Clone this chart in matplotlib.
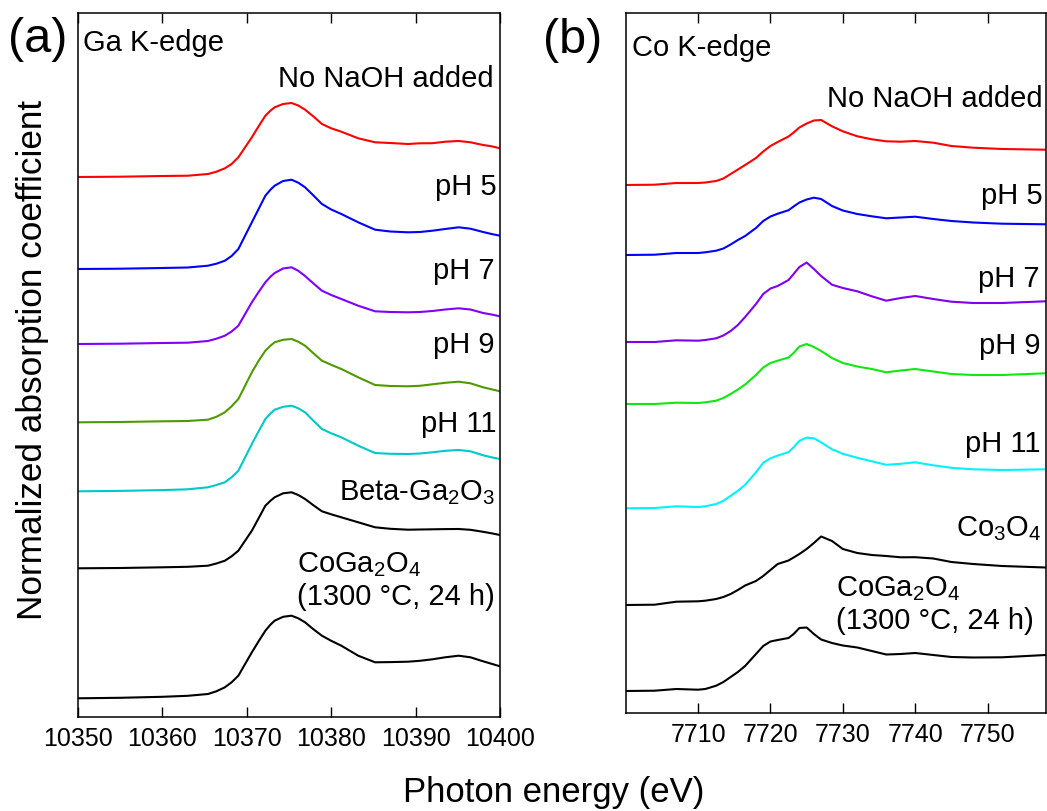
import matplotlib
matplotlib.use("Agg")
import matplotlib.pyplot as plt
import numpy as np

plt.rcParams['font.family'] = ['Liberation Sans', 'DejaVu Sans']
plt.rcParams['mathtext.fontset'] = 'custom'
plt.rcParams['mathtext.rm'] = 'Liberation Sans'
plt.rcParams['mathtext.it'] = 'Liberation Sans:italic'
plt.rcParams['mathtext.bf'] = 'Liberation Sans:bold'

# ---------------- Ga K-edge data (a.u., heights above pre-edge) ----------------
ga_energy = [10350, 10355, 10360, 10363, 10365.4, 10366.4, 10367.4, 10368.2, 10369.0,
             10370.6, 10371.4, 10372.2, 10372.8, 10373.3, 10374.3, 10375.3, 10376.1,
             10376.9, 10377.9, 10378.9, 10380.0, 10381.2, 10383.2, 10385.2, 10387.0,
             10389.1, 10390.5, 10392.0, 10393.5, 10395.1, 10396.5, 10398.0, 10399.0,
             10400]
ga_no_naoh = [0, 0.3, 1, 1.3, 3, 5.3, 8.7, 13, 19.7, 39.7, 50.7, 61.3, 66.3, 69.7, 73,
              74, 71.5, 67.3, 60.5, 53, 48.7, 45.3, 38.7, 34.7, 34, 33, 33.7, 33.8,
              35.3, 36, 34.7, 32, 30.7, 28.7]
ga_ph5 = [0, 0.3, 1, 1.5, 3.3, 5.3, 8.3, 13, 20, 46.7, 60, 73.3, 79.3, 83.3, 88,
          89.3, 86.3, 81.7, 73.5, 65, 59.5, 55, 46.7, 39.3, 37.5, 36.7, 37, 38.3,
          40, 41.7, 40.3, 37, 35, 33.3]
ga_ph7 = [0, 0.3, 1, 1.3, 3, 5.3, 8.3, 12.5, 18.3, 41.7, 52, 61.7, 67.3, 71, 75.5,
          76.7, 73.2, 68, 60.5, 53.3, 49, 45, 38.3, 32.7, 32, 31.7, 32, 33, 34.5,
          35.7, 34.5, 31, 29.5, 27.7]
ga_ph9 = [0, 0.3, 1, 1.3, 2.6, 5.5, 10, 16, 23.3, 50, 61.5, 71.6, 76.6, 80, 82.5,
          83.3, 80.6, 76.6, 69, 61.6, 57.5, 53.3, 45, 37.3, 36.3, 36, 36.5, 38,
          39.5, 40.6, 39, 35, 33, 31]
ga_ph11 = [0, 0.4, 1.2, 2, 4, 6.3, 9, 14, 20.6, 47.3, 60, 72.3, 77.8, 81.6, 84.5,
           85.6, 83, 79, 70.5, 62.3, 58, 54, 45.6, 38.3, 37.5, 37.3, 37.8, 39, 40.5,
           41.3, 40, 36, 34, 32.3]
ga_beta = [0, 0.3, 1, 1.5, 2.6, 4.8, 7.6, 12, 17.6, 37.6, 50, 62.6, 67.5, 71, 75,
           76, 73.3, 69.3, 63, 57, 54, 51, 46, 41, 39.5, 38.6, 38.8, 39, 39.2, 39.3,
           38.5, 36.5, 35, 33.3]
ga_cogao = [0, 0.5, 1.5, 2.5, 4.3, 7, 11, 16, 22.6, 46, 57, 67.6, 73.6, 77.6, 81.5,
            82.6, 80, 76, 69, 62.6, 57.5, 52.6, 42.6, 36, 36.2, 36.6, 37.5, 39, 41,
            42.6, 41, 37, 34.5, 32]
ga_offsets = [540, 448, 373, 294.7, 225.7, 148.7, 18.7]

# ---------------- Co K-edge data ----------------
co_energy = [7700, 7704, 7707, 7710, 7711, 7712.5, 7713.5, 7714.5, 7715.5, 7716.5,
             7718, 7719, 7720, 7721, 7722.5, 7723.2, 7724, 7725, 7726, 7727, 7728.5,
             7730, 7732, 7734, 7736, 7738, 7740, 7742.5, 7745, 7748, 7752, 7758]
co_no_naoh = [0, 0.3, 2, 2, 2.5, 4, 6.5, 11, 15.5, 20, 27, 33.5, 39, 43, 48.5, 52.5,
              57.5, 61.5, 64.5, 65, 58.7, 53.7, 48.7, 45.7, 43.7, 43.3, 44, 42.3, 39,
              37.3, 36, 35.3]
co_ph5 = [0, 0.3, 2, 2, 2.7, 4.3, 6.5, 10.5, 15, 19, 27, 34, 38.5, 41.3, 44.8, 48.5,
          52.5, 55.5, 57.3, 56, 49, 44.5, 41, 38.7, 36.7, 37.5, 38.3, 36, 34, 32.5,
          31.3, 30.7]
co_ph7 = [0, 0, 1.7, 1.3, 2, 3.7, 6.5, 11, 17, 25, 38, 48, 53.5, 56, 62, 68, 75,
          79.5, 73, 66, 57.3, 54, 50.7, 45.7, 41.3, 44, 46, 43, 40.3, 39, 39, 40.7]
co_ph9 = [0, 0, 1.3, 1, 1.7, 3.3, 6, 10, 14.5, 19.5, 29, 36.5, 41, 43.3, 46.5, 51,
          57.5, 60, 57, 53, 46, 41, 37.5, 35, 31.7, 33.5, 35, 32.5, 30, 29, 29, 30.7]
co_ph11 = [0, 0.3, 2, 1.3, 2, 4.3, 7.5, 12.5, 17.5, 23.5, 36, 45.5, 50, 52.7, 56.2,
           61, 67.5, 70.7, 70, 66, 59, 54.5, 50.5, 47, 43.5, 44.5, 46, 43, 40.5, 39,
           38.3, 39]
co_co3o4 = [0, 0.3, 3.3, 3.7, 4.3, 6, 8, 11, 15, 19.5, 24, 29, 35, 41, 44.5, 47.5,
            51, 56, 62, 68.5, 64, 56, 52, 50, 49, 47.7, 47.8, 46.5, 43, 41, 39, 37.5]
co_cogao = [0, 0.3, 2, 1.3, 2, 5.3, 9, 14, 19, 25, 37, 45, 49.5, 51, 53, 57, 63,
            63.5, 57, 51.5, 48, 45.5, 43.5, 40, 36.5, 37, 38, 36, 34, 33.5, 33.7, 36]
co_offsets = [528, 458, 371, 309, 204.7, 108, 22]

ga_colors = ['#ff0000', '#0000ff', '#7f00ff', '#4f9a00', '#00c8c8', '#000000', '#000000']
co_colors = ['#ff0000', '#0000ff', '#7f00ee', '#11e811', '#00f2ff', '#000000', '#000000']

ga_ticks = [10350, 10360, 10370, 10380, 10390, 10400]
co_ticks = [7710, 7720, 7730, 7740, 7750]

fig = plt.figure(figsize=(10.47, 8.12), dpi=100)
axa = fig.add_axes([78/1047, 94/812, 422/1047, 704/812])
axb = fig.add_axes([625.7/1047, 98/812, 419.8/1047, 700/812])

ga_series = [ga_no_naoh, ga_ph5, ga_ph7, ga_ph9, ga_ph11, ga_beta, ga_cogao]
co_series = [co_no_naoh, co_ph5, co_ph7, co_ph9, co_ph11, co_co3o4, co_cogao]

for s, off, c in zip(ga_series, ga_offsets, ga_colors):
    axa.plot(ga_energy, np.array(s) + off, color=c, lw=1.5, solid_joinstyle='round')
for s, off, c in zip(co_series, co_offsets, co_colors):
    axb.plot(co_energy, np.array(s) + off, color=c, lw=1.5, solid_joinstyle='round')

axa.set_xlim(10350, 10400)
axa.set_ylim(0, 704)
axb.set_xlim(7700, 7758)
axb.set_ylim(0, 700)
axa.set_xticks(ga_ticks)
axb.set_xticks(co_ticks)

for ax in (axa, axb):
    ax.set_yticks([])
    ax.tick_params(axis='x', direction='in', length=7.2, width=1.0, top=True,
                   labelsize=18, pad=6.5)
    for sp in ax.spines.values():
        sp.set_linewidth(1.1)

fs = 21
ta = axa.transAxes
axa.text(0.0126, 0.9479, 'Ga K-edge', transform=ta, fontsize=fs, ha='left', va='baseline')
axa.text(0.986, 0.8963, 'No NaOH added', transform=ta, fontsize=fs, ha='right', va='baseline')
axa.text(0.992, 0.7429, 'pH 5', transform=ta, fontsize=fs, ha='right', va='baseline')
axa.text(0.988, 0.6236, 'pH 7', transform=ta, fontsize=fs, ha='right', va='baseline')
axa.text(0.988, 0.5185, 'pH 9', transform=ta, fontsize=fs, ha='right', va='baseline')
axa.text(0.992, 0.4058, 'pH 11', transform=ta, fontsize=fs, ha='right', va='baseline')
axa.text(0.990, 0.3097, r'Beta-Ga$_2$O$_3$', transform=ta, fontsize=fs, ha='right', va='baseline')
axa.text(0.518, 0.2078, r'CoGa$_2$O$_4$', transform=ta, fontsize=fs, ha='left', va='baseline')
axa.text(0.520, 0.1612, '(1300 °C, 24 h)', transform=ta, fontsize=fs, ha='left', va='baseline')

tb = axb.transAxes
axb.text(0.0143, 0.94, 'Co K-edge', transform=tb, fontsize=fs, ha='left', va='baseline')
axb.text(0.992, 0.8667, 'No NaOH added', transform=tb, fontsize=fs, ha='right', va='baseline')
axb.text(0.992, 0.7286, 'pH 5', transform=tb, fontsize=fs, ha='right', va='baseline')
axb.text(0.987, 0.6104, 'pH 7', transform=tb, fontsize=fs, ha='right', va='baseline')
axb.text(0.987, 0.5143, 'pH 9', transform=tb, fontsize=fs, ha='right', va='baseline')
axb.text(0.989, 0.3747, 'pH 11', transform=tb, fontsize=fs, ha='right', va='baseline')
axb.text(0.989, 0.2533, r'Co$_3$O$_4$', transform=tb, fontsize=fs, ha='right', va='baseline')
axb.text(0.501, 0.1676, r'CoGa$_2$O$_4$', transform=tb, fontsize=fs, ha='left', va='baseline')
axb.text(0.501, 0.121, '(1300 °C, 24 h)', transform=tb, fontsize=fs, ha='left', va='baseline')

fig.text(8/1047, 1 - 52/812, '(a)', fontsize=35, ha='left', va='baseline')
fig.text(543/1047, 1 - 52.7/812, '(b)', fontsize=35, ha='left', va='baseline')
fig.text(33/1047, 1 - 360/812, 'Normalized absorption coefficient', fontsize=25.3,
         rotation=90, ha='center', va='center')
fig.text(554/1047, 10.3/812, 'Photon energy (eV)', fontsize=25, ha='center', va='baseline')

fig.savefig('out.png', dpi=100)
